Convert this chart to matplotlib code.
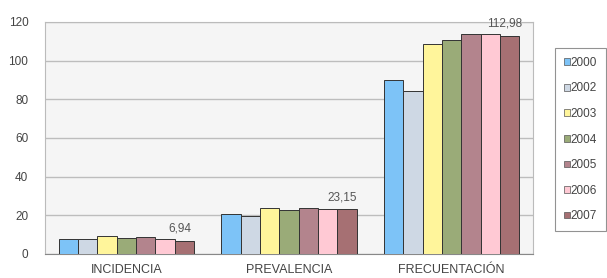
import numpy as np
import matplotlib.pyplot as plt
from matplotlib.patches import Patch

plt.rcParams['font.family'] = ['Liberation Sans', 'DejaVu Sans']

# Data
categories = ['INCIDENCIA', 'PREVALENCIA', 'FRECUENTACIÓN']
years = ['2000', '2002', '2003', '2004', '2005', '2006', '2007']
incidencia = [7.9, 8.0, 9.1, 8.3, 9.0, 7.6, 6.94]
prevalencia = [20.7, 19.5, 24.0, 22.6, 23.8, 23.1, 23.15]
frecuentacion = [89.9, 84.3, 108.6, 110.7, 114.0, 114.0, 112.98]
labels_2007 = ['6,94', '23,15', '112,98']

colors = ['#7dc3f7', '#ced8e4', '#fff59b', '#9aab78', '#b3848d', '#ffc9d4', '#a67073']

values = np.array([incidencia, prevalencia, frecuentacion])

fig = plt.figure(figsize=(6.07, 2.78), dpi=100)
ax = fig.add_axes([45 / 607, 24 / 278, 488 / 607, 232 / 278])
ax.set_facecolor('#f5f5f5')

x = np.arange(len(categories))
width = 0.119
n = len(years)
for i, year in enumerate(years):
    pos = x + (i - (n - 1) / 2) * width
    ax.bar(pos, values[:, i], width, color=colors[i], edgecolor='#333333',
           linewidth=0.7, zorder=3)

# value labels over the 2007 bars
last = x + (n - 1) / 2 * width
for xi, v, lab in zip(last, values[:, -1], labels_2007):
    ax.text(xi - 0.03, v + 3, lab, ha='center', va='bottom', fontsize=8.5,
            color='#555555', zorder=4)

ax.set_xlim(-0.5, 2.5)
ax.set_ylim(0, 120)
ax.set_yticks(np.arange(0, 121, 20))
ax.set_xticks(x)
ax.set_xticklabels(categories)
ax.tick_params(axis='both', length=0, colors='#444444')
ax.tick_params(axis='x', pad=7, labelsize=9)
ax.tick_params(axis='y', pad=12, labelsize=8.5)
ax.yaxis.grid(True, color='#bdbdbd', linewidth=1, zorder=0)
for s in ax.spines.values():
    s.set_color('#bbbbbb')
    s.set_linewidth(0.8)
ax.spines['bottom'].set_color('#888888')

handles = [Patch(facecolor=c, edgecolor='#555555', linewidth=0.5) for c in colors]
leg = fig.legend(handles, years, loc='upper right', bbox_to_anchor=(606 / 607, 1 - 48 / 278),
                 fontsize=8.5, frameon=True, fancybox=False, handlelength=0.5,
                 handleheight=0.5, handletextpad=0.1, labelspacing=1.15,
                 borderpad=0.75, borderaxespad=0)
leg.get_frame().set_edgecolor('#777777')
leg.get_frame().set_linewidth(0.8)
for t in leg.get_texts():
    t.set_color('#444444')

plt.savefig('out.png', dpi=100)
